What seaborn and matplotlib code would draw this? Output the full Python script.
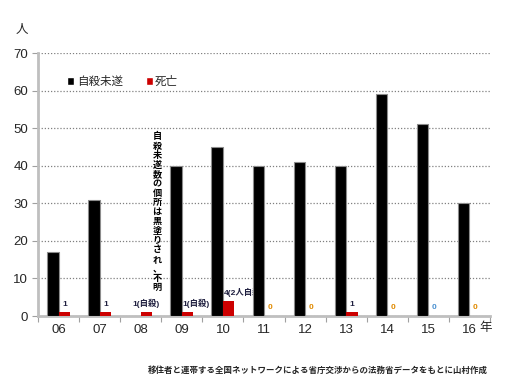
import numpy as np
import pandas as pd
import matplotlib
matplotlib.use("Agg")
import matplotlib.pyplot as plt
import seaborn as sns

years = ["06", "07", "08", "09", "10", "11", "12", "13", "14", "15", "16"]
attempts = [17, 31, np.nan, 40, 45, 40, 41, 40, 59, 51, 30]
deaths = [1, 1, 1, 1, 4, 0, 0, 1, 0, 0, 0]
death_labels = ["1", "1", "1(自殺)", "1(自殺)", "4(2人自殺)", "0", "0", "1", "0", "0", "0"]
series_names = ["自殺未遂", "死亡"]
yticks = [0, 10, 20, 30, 40, 50, 60, 70]
note_vertical = "自殺未遂数の個所は黒塗りされ、不明"
source_note = "移住者と連帯する全国ネットワークによる省庁交渉からの法務省データをもとに山村作成"

sns.set_theme(style="white")
plt.rcParams["font.family"] = ["Liberation Sans", "Noto Sans CJK JP", "DejaVu Sans"]

df = pd.DataFrame({
    "year": years * 2,
    "series": [series_names[0]] * len(years) + [series_names[1]] * len(years),
    "value": list(attempts) + list(deaths),
})

fig = plt.figure(figsize=(5.08, 3.8), dpi=100)
ax = fig.add_axes([0.0748, 0.1684, 0.8898, 0.6921])

sns.barplot(data=df, x="year", y="value", hue="series", order=years,
            hue_order=series_names, palette=["#000000", "#CC0000"], saturation=1,
            width=0.56, gap=0, errorbar=None, ax=ax, zorder=3)

for p in ax.containers[0]:
    p.set_edgecolor("#8C8C8C")
    p.set_linewidth(0.8)
for p in ax.containers[1]:
    p.set_linewidth(0)

ax.set_ylim(0, 70)
ax.set_xlim(-0.5, len(years) - 0.5)
ax.set_yticks(yticks)
ax.set_yticklabels([str(v) for v in yticks], fontsize=9.5)
ax.yaxis.grid(True, linestyle=(0, (1, 1.5)), color="#808080", linewidth=0.9)
ax.set_axisbelow(True)
for s in ["top", "right"]:
    ax.spines[s].set_visible(False)
for s in ["left", "bottom"]:
    ax.spines[s].set_color("#BFBFBF")
    ax.spines[s].set_linewidth(2)
ax.set_xlabel("")
ax.set_ylabel("")
ax.set_xticks(range(len(years)))
ax.set_xticklabels(years, fontsize=9.5)
ax.set_xticks(np.arange(-0.5, len(years), 1.0), minor=True)
ax.tick_params(axis="x", which="major", length=0, pad=6)
ax.tick_params(axis="x", which="minor", length=4, width=0.8, color="#A0A0A0", direction="out", bottom=True)
ax.tick_params(axis="y", length=4, width=0.8, color="#A0A0A0", direction="out", left=True, pad=3)

# labels on death bars
for i, (v, lab) in enumerate(zip(deaths, death_labels)):
    bar = ax.containers[1][i]
    cx = bar.get_x() + bar.get_width() / 2
    if lab == "0":
        col = "#4A90D0" if years[i] == "15" else "#E08A00"
        ax.text(cx, v + 1.2, lab, ha="center", va="bottom", fontsize=6,
                fontweight="bold", color=col, zorder=2)
    elif years[i] in ("09", "10"):
        ax.text(bar.get_x() + 0.02, v + 1.0, lab, ha="left", va="bottom", fontsize=6,
                fontweight="bold", color="#1F1F3F", zorder=2)
    else:
        ax.text(cx, v + 1.0, lab, ha="center", va="bottom", fontsize=6,
                fontweight="bold", color="#1F1F3F", zorder=2)

# vertical note in 08 slot
ax.text(2.4, 49, "\n".join(note_vertical), ha="center", va="top", fontsize=6.6,
        fontweight="bold", color="#000000", linespacing=1.06, zorder=4)

leg = ax.legend(loc="upper left", bbox_to_anchor=(0.055, 0.93), ncol=2, frameon=False,
                fontsize=8.3, handlelength=0.6, handleheight=0.6, handletextpad=0.2,
                columnspacing=2.0, borderaxespad=0)

fig.text(22 / 508, 1 - 30 / 380, "人", fontsize=9, ha="center", va="center")
fig.text(486 / 508, 1 - 328 / 380, "年", fontsize=9, ha="center", va="center")
fig.text(148 / 508, 1 - 370 / 380, source_note, fontsize=6.1, fontweight="bold",
         ha="left", va="center")

fig.savefig("out.png", dpi=100)
